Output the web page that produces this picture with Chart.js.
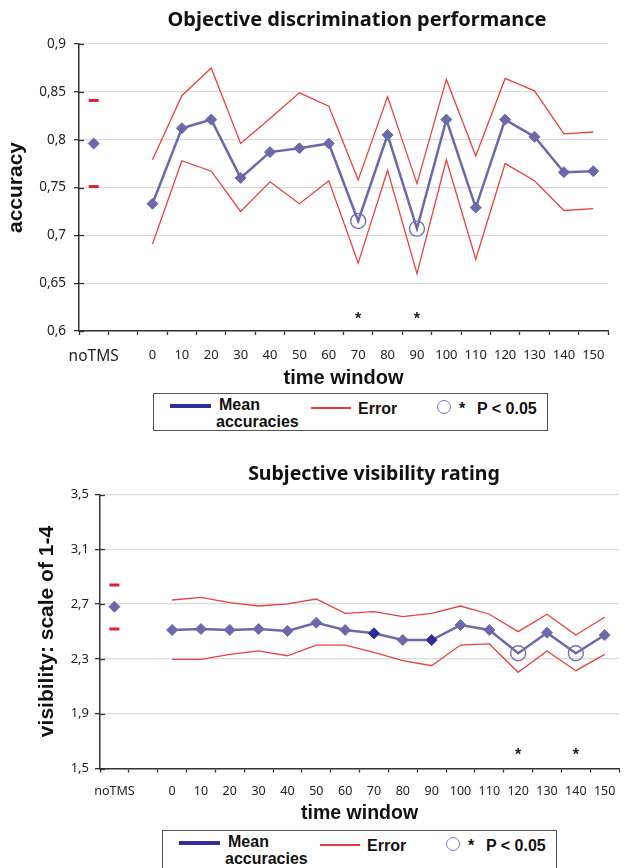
<!DOCTYPE html>
<html><head><meta charset="utf-8">
<script src="https://cdn.jsdelivr.net/npm/chart.js@4.4.0/dist/chart.umd.min.js"></script>
<style>
html,body{margin:0;padding:0;background:#fff;width:628px;height:868px;overflow:hidden;position:relative}
canvas{position:absolute;left:0}
#c1{top:0}
#c2{top:440px}
.title{position:absolute;font-family:'Noto Sans';font-weight:700;white-space:nowrap;transform:translate(-50%,-50%);color:#111;line-height:1}
.legend{position:absolute;border:1.5px solid #555;box-sizing:border-box;width:395px;height:38px;font-family:'Liberation Sans';font-weight:700;font-size:16px;color:#111}
.legend span,.legend i{position:absolute;white-space:nowrap;line-height:1;font-style:normal}
.legend .bl{left:16px;top:10px;width:41px;height:4px;background:#2e2e9c}
.legend .rl{left:157px;top:13px;width:40px;height:2px;background:#ee3a3a}
.legend .ci{left:283px;top:6px;width:14px;height:14px;border:1.4px solid #7474bb;border-radius:50%;box-sizing:border-box}
</style></head><body>
<canvas id="c1" width="628" height="390"></canvas>
<canvas id="c2" width="628" height="385"></canvas>

<div class="title" id="t1" style="left:357px;top:19px;font-size:20px">Objective discrimination performance</div>
<div class="title" id="t2" style="left:374px;top:473px;font-size:19.5px">Subjective visibility rating</div>

<div class="legend" style="left:153px;top:393px">
  <i class="bl"></i><span style="left:65px;top:3px">Mean</span><span style="left:62px;top:20px">accuracies</span>
  <i class="rl"></i><span style="left:204px;top:7px">Error</span>
  <i class="ci"></i><span style="left:305px;top:7px">*</span><span style="left:323px;top:7px">P &lt; 0.05</span>
</div>
<div class="legend" style="left:162px;top:830px;height:40px">
  <i class="bl"></i><span style="left:65px;top:3px">Mean</span><span style="left:62px;top:20px">accuracies</span>
  <i class="rl"></i><span style="left:204px;top:7px">Error</span>
  <i class="ci"></i><span style="left:305px;top:7px">*</span><span style="left:323px;top:7px">P &lt; 0.05</span>
</div>

<script>
// ---- data ----
const categories = ['noTMS', '', '0', '10', '20', '30', '40', '50', '60', '70', '80', '90', '100', '110', '120', '130', '140', '150'];

const accTickLabels = ['0,6', '0,65', '0,7', '0,75', '0,8', '0,85', '0,9'];
const accMean  = [0.796, null, 0.733, 0.812, 0.821, 0.760, 0.787, 0.791, 0.796, 0.715, 0.805, 0.707, 0.821, 0.729, 0.821, 0.803, 0.766, 0.767];
const accUpper = [0.841, null, 0.779, 0.846, 0.875, 0.796, 0.822, 0.849, 0.835, 0.758, 0.845, 0.754, 0.863, 0.783, 0.864, 0.851, 0.806, 0.808];
const accLower = [0.751, null, 0.691, 0.778, 0.767, 0.725, 0.756, 0.733, 0.757, 0.671, 0.768, 0.660, 0.779, 0.675, 0.775, 0.757, 0.726, 0.728];
const accSig   = [null, null, null, null, null, null, null, null, null, 0.715, null, 0.707, null, null, null, null, null, null];
const accStars = [null, null, null, null, null, null, null, null, null, 0.615, null, 0.615, null, null, null, null, null, null];

const visTickLabels = ['1,5', '1,9', '2,3', '2,7', '3,1', '3,5'];
const visMean  = [2.681, null, 2.511, 2.518, 2.511, 2.518, 2.504, 2.564, 2.511, 2.487, 2.438, 2.438, 2.547, 2.511, 2.341, 2.491, 2.341, 2.474];
const visUpper = [2.839, null, 2.730, 2.749, 2.710, 2.686, 2.701, 2.737, 2.633, 2.645, 2.608, 2.633, 2.686, 2.626, 2.499, 2.626, 2.474, 2.604];
const visLower = [2.518, null, 2.297, 2.297, 2.333, 2.358, 2.323, 2.401, 2.401, 2.348, 2.287, 2.250, 2.401, 2.409, 2.202, 2.358, 2.214, 2.333];
const visSig   = [null, null, null, null, null, null, null, null, null, null, null, null, null, null, 2.341, null, 2.341, null];
const visStars = [null, null, null, null, null, null, null, null, null, null, null, null, null, null, 1.618, null, 1.618, null];
const visDarkPoints = ['70', '90'];

// ---- drawing ----
const extras = {
  id: 'extras',
  afterDatasetsDraw(chart) {
    const ctx = chart.ctx;
    chart.data.datasets.forEach((ds, i) => {
      if (!ds.isStar) return;
      const meta = chart.getDatasetMeta(i);
      ctx.save();
      ctx.fillStyle = '#222';
      ctx.font = 'bold 16px "Liberation Sans"';
      ctx.textAlign = 'center';
      ctx.textBaseline = 'middle';
      meta.data.forEach((el, j) => { if (ds.data[j] != null) ctx.fillText('*', el.x, el.y + 3); });
      ctx.restore();
    });
    const y = chart.scales.y;
    ctx.save();
    ctx.strokeStyle = '#333';
    ctx.lineWidth = 1.3;
    y.ticks.forEach((t, k) => {
      const py = Math.round(y.getPixelForTick(k)) + 0.5;
      ctx.beginPath(); ctx.moveTo(y.right, py); ctx.lineTo(y.right + 5, py); ctx.stroke();
    });
    ctx.restore();
  }
};

function makeChart(id, cfg) {
  const meanColor = '#6a6aaa';
  const redColor = '#e8423f';
  const redPointR = categories.map((c, i) => i === 0 ? 5 : 0);
  const meanPointR = cfg.sig.map(v => v == null ? 5.5 : 0);
  const meanPointColor = categories.map(c => cfg.dark.includes(c) ? '#2c2c9c' : meanColor);
  return new Chart(document.getElementById(id), {
    type: 'line',
    data: {
      labels: categories,
      datasets: [
        { data: cfg.sig, order: 0, showLine: false, pointStyle: 'circle', pointRadius: 7.5, pointBorderWidth: 1.4,
          pointBorderColor: '#7070b4', pointBackgroundColor: 'rgba(0,0,0,0)' },
        { data: cfg.mean, order: 1, borderColor: meanColor, borderWidth: 2.5, tension: 0, spanGaps: false,
          pointStyle: 'rectRot', pointRadius: meanPointR, pointBorderWidth: 1,
          pointBackgroundColor: meanPointColor, pointBorderColor: meanPointColor },
        { data: cfg.stars, order: 2, showLine: false, pointRadius: 0, isStar: true },
        { data: cfg.upper, order: 3, borderColor: redColor, borderWidth: 1.3, tension: 0, spanGaps: false,
          pointStyle: 'line', pointRadius: redPointR, pointBorderWidth: 3, pointBorderColor: '#e0202a' },
        { data: cfg.lower, order: 3, borderColor: redColor, borderWidth: 1.3, tension: 0, spanGaps: false,
          pointStyle: 'line', pointRadius: redPointR, pointBorderWidth: 3, pointBorderColor: '#e0202a' }
      ]
    },
    options: {
      responsive: false, animation: false, events: [],
      layout: { padding: { top: cfg.padTop, right: cfg.padRight, left: 0, bottom: 0 } },
      plugins: { legend: { display: false }, tooltip: { enabled: false }, title: { display: false } },
      scales: {
        x: {
          type: 'category', offset: true,
          grid: { offset: true, drawOnChartArea: false, drawTicks: true, tickLength: 4, tickColor: '#333', tickWidth: 1.3 },
          border: { display: true, color: '#333', width: 1.5 },
          ticks: { autoSkip: false, maxRotation: 0, minRotation: 0, padding: cfg.xPad, color: '#222',
            font: (c) => ({ family: 'Noto Sans', size: c.index === 0 ? cfg.noTmsSize : cfg.xSize }) },
          title: { display: true, text: 'time window', color: '#111', padding: 0,
            font: { family: 'Liberation Sans', weight: 'bold', size: cfg.xTitleSize } },
          afterFit(s) { s.height = cfg.xHeight; }
        },
        y: {
          min: cfg.min, max: cfg.max,
          ticks: { stepSize: cfg.step, padding: cfg.yPad, color: '#222', font: { family: 'Noto Sans', size: cfg.ySize },
            callback: (v, i) => cfg.tickLabels[i] },
          grid: { color: '#dcdcdc', lineWidth: 1.3, tickLength: 5, tickColor: '#333', tickWidth: 1.3 },
          border: { display: true, color: '#333', width: 1.5 },
          title: { display: true, text: cfg.yTitle, color: '#111', padding: { top: cfg.yTitlePad, bottom: 0 },
            font: { family: 'Liberation Sans', weight: 'bold', size: 21 } },
          afterFit(s) { s.width = cfg.yWidth; }
        }
      }
    },
    plugins: [extras]
  });
}

makeChart('c1', {
  mean: accMean, upper: accUpper, lower: accLower, sig: accSig, stars: accStars, dark: [],
  tickLabels: accTickLabels, min: 0.6, max: 0.9, step: 0.05, yTitle: 'accuracy',
  padTop: 44, padRight: 20, xHeight: 59, yWidth: 79, xPad: 12, yPad: 8, xSize: 13, noTmsSize: 15.5,
  ySize: 13.5, xTitleSize: 20, yTitlePad: 4
});
makeChart('c2', {
  mean: visMean, upper: visUpper, lower: visLower, sig: visSig, stars: visStars, dark: visDarkPoints,
  tickLabels: visTickLabels, min: 1.5, max: 3.5, step: 0.4, yTitle: 'visibility: scale of 1-4',
  padTop: 54.5, padRight: 0, xHeight: 56.5, yWidth: 100, xPad: 11.5, yPad: 6, xSize: 12.5, noTmsSize: 12.5,
  ySize: 13, xTitleSize: 19.5, yTitlePad: 35
});
</script>
</body></html>
